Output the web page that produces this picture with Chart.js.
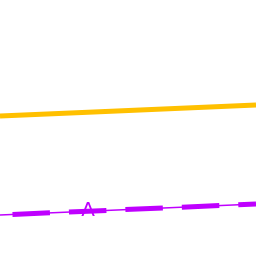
<!DOCTYPE html>
<html>
<head>
<meta charset="utf-8">
<script src="https://cdn.jsdelivr.net/npm/chart.js@4"></script>
<style>
  html, body { margin: 0; padding: 0; background: #ffffff; }
  #chart { display: block; }
</style>
</head>
<body>
<canvas id="chart" width="256" height="256"></canvas>
<script>
// Werte aus dem Bild geschaetzt
const xValues = [0, 88, 256];
const orangeValues = [140, 143.8, 151];
const greenValues = [140.6, 144.3, 151.5];
const purpleValues = [41, 44.8, 52];
const markerLabels = ['', 'A', ''];

// Beschriftung "A" direkt auf dem Punkt zeichnen
const labelPlugin = {
    id: 'pointLabels',
    afterDatasetsDraw(chart) {
        const ctx = chart.ctx;
        const meta = chart.getDatasetMeta(2);
        ctx.save();
        ctx.fillStyle = '#bf00ff';
        ctx.font = '20px "DejaVu Sans", sans-serif';
        ctx.textAlign = 'center';
        ctx.textBaseline = 'middle';
        meta.data.forEach((pt, i) => {
            if (markerLabels[i]) {
                ctx.fillText(markerLabels[i], pt.x, pt.y);
            }
        });
        ctx.restore();
    }
};

const toPoints = values => values.map((v, i) => ({ x: xValues[i], y: v }));

new Chart(document.getElementById('chart'), {
    type: 'line',
    data: {
        datasets: [
            {
                data: toPoints(orangeValues),
                borderColor: '#ffc000',
                borderWidth: 5,
                pointRadius: 0
            },
            {
                data: toPoints(greenValues),
                borderColor: 'rgba(150, 205, 110, 0.6)',
                borderWidth: 1.2,
                pointRadius: 0
            },
            {
                data: toPoints(purpleValues),
                borderColor: '#bf00ff',
                borderWidth: 1.5,
                pointRadius: 0
            },
            {
                data: toPoints(purpleValues),
                borderColor: '#bf00ff',
                borderWidth: 5,
                borderDash: [37.5, 19],
                borderDashOffset: 44,
                borderCapStyle: 'butt',
                pointRadius: 0
            }
        ]
    },
    options: {
        responsive: false,
        animation: false,
        layout: { padding: 0 },
        plugins: {
            legend: { display: false },
            tooltip: { enabled: false }
        },
        scales: {
            x: { type: 'linear', min: 0, max: 256, display: false },
            y: { type: 'linear', min: 0, max: 256, display: false }
        }
    },
    plugins: [labelPlugin]
});
</script>
</body>
</html>
